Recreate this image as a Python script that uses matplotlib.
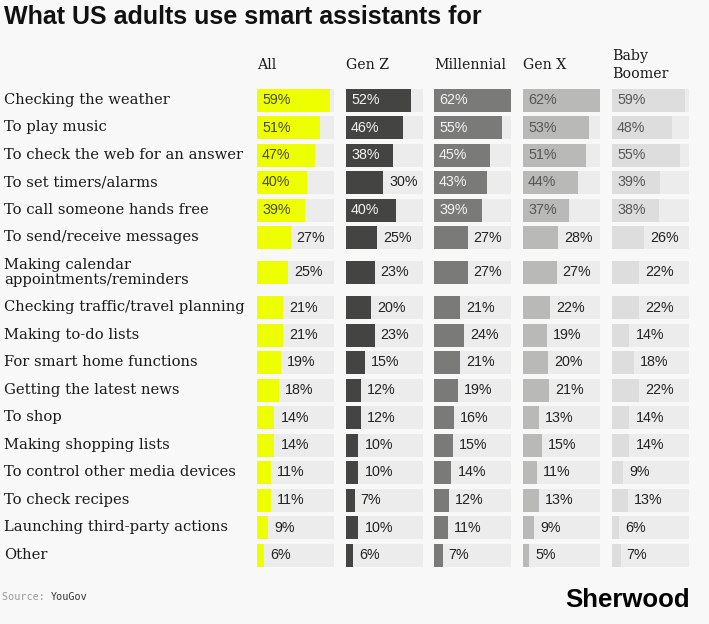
import matplotlib.pyplot as plt
import numpy as np

categories = ["Checking the weather", "To play music", "To check the web for an answer",
              "To set timers/alarms", "To call someone hands free", "To send/receive messages",
              "Making calendar\nappointments/reminders", "Checking traffic/travel planning",
              "Making to-do lists", "For smart home functions", "Getting the latest news",
              "To shop", "Making shopping lists", "To control other media devices",
              "To check recipes", "Launching third-party actions", "Other"]

groups = ["All", "Gen Z", "Millennial", "Gen X", "Baby\nBoomer"]

all_pct = [59, 51, 47, 40, 39, 27, 25, 21, 21, 19, 18, 14, 14, 11, 11, 9, 6]
gen_z = [52, 46, 38, 30, 40, 25, 23, 20, 23, 15, 12, 12, 10, 10, 7, 10, 6]
millennial = [62, 55, 45, 43, 39, 27, 27, 21, 24, 21, 19, 16, 15, 14, 12, 11, 7]
gen_x = [62, 53, 51, 44, 37, 28, 27, 22, 19, 20, 21, 13, 15, 11, 13, 9, 5]
boomer = [59, 48, 55, 39, 38, 26, 22, 22, 14, 18, 22, 14, 14, 9, 13, 6, 7]

series = [all_pct, gen_z, millennial, gen_x, boomer]

W, H = 709, 624
BG = "#f8f8f8"
TRACK = "#ececec"
bar_colors = ["#eeff00", "#444542", "#7a7b79", "#b9bab7", "#dddddd"]
in_text = ["#4a4a20", "#f4f4f4", "#f4f4f4", "#555555", "#555555"]
col_left = [257, 346, 434, 523, 612]
col_w = 77
vmax = max(max(s) for s in series)

# row centres in pixels, two-line labels get extra room
ys = []
y = 100
for i, c in enumerate(categories):
    two = "\n" in c
    if i > 0:
        prev_two = "\n" in categories[i - 1]
        y += 27.5 + (7.5 if two else 0) + (7.5 if prev_two else 0)
    ys.append(y)

fig = plt.figure(figsize=(W / 100, H / 100), dpi=100, facecolor=BG)
bg = fig.add_axes([0, 0, 1, 1])
bg.set_xlim(0, W)
bg.set_ylim(H, 0)
bg.axis("off")
bg.set_facecolor(BG)

serif = "DejaVu Serif"
sans = "Liberation Sans"

bg.text(4, 17, "What US adults use smart assistants for", fontsize=18, fontweight="bold",
        family=sans, color="#111111", va="center", ha="left")

for c, yy in zip(categories, ys):
    bg.text(4, yy, c, fontsize=10.6, family=serif, color="#1a1a1a", va="center", ha="left",
            linespacing=1.15)

for g, x0 in zip(groups, col_left):
    bg.text(x0, 65, g, fontsize=10.2, family=serif, color="#1a1a1a", va="center", ha="left",
            linespacing=1.3)

for k, (vals, x0) in enumerate(zip(series, col_left)):
    ax = fig.add_axes([x0 / W, 0, col_w / W, 1])
    ax.set_xlim(0, vmax)
    ax.set_ylim(H, 0)
    ax.axis("off")
    ax.barh(ys, [vmax] * len(ys), height=23, color=TRACK, linewidth=0)
    ax.barh(ys, vals, height=23, color=bar_colors[k], linewidth=0)
    for v, yy in zip(vals, ys):
        if v > 30:
            ax.annotate(f"{v}%", xy=(0, yy), xytext=(5, 0), textcoords="offset pixels",
                        fontsize=10.3, family=sans, color=in_text[k], va="center", ha="left")
        else:
            ax.annotate(f"{v}%", xy=(v, yy), xytext=(6, 0), textcoords="offset pixels",
                        fontsize=10.3, family=sans, color="#222222", va="center", ha="left")

bg.text(2, 597, "Source: ", fontsize=7.3, family="DejaVu Sans Mono", color="#999999",
        va="center", ha="left")
bg.text(2 + 8 * 6.1, 597, "YouGov", fontsize=7.3, family="DejaVu Sans Mono", color="#333333",
        va="center", ha="left")
bg.text(690, 600, "Sherwood", fontsize=18.5, fontweight="bold", family=sans, color="#000000",
        va="center", ha="right")

fig.savefig("out.png", dpi=100, facecolor=BG)
